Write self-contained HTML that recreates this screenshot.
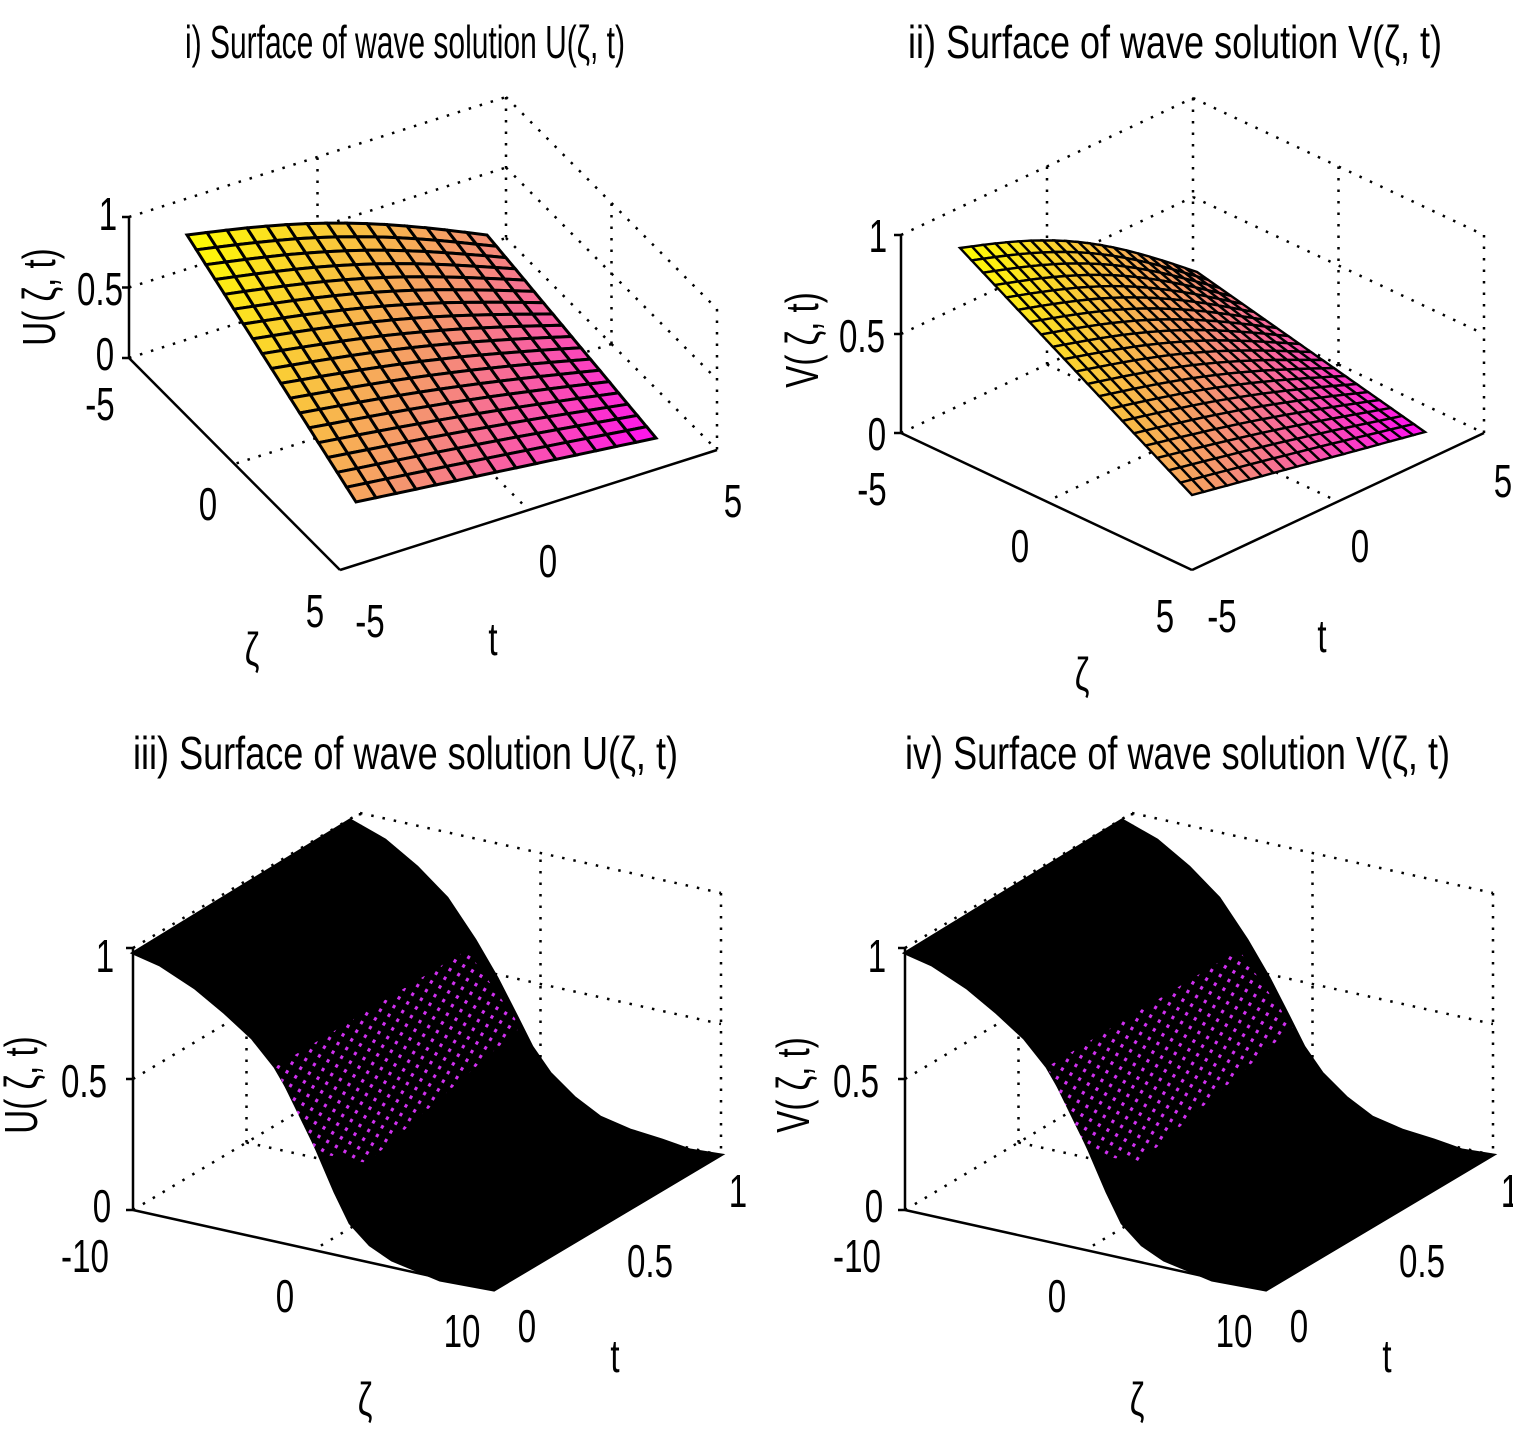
<!DOCTYPE html>
<html><head><meta charset="utf-8"><style>
html,body{margin:0;padding:0;background:#fff;}
svg{display:block;}
text{font-family:"Liberation Sans",sans-serif;fill:#000;}
</style></head><body>
<svg id="s" width="1513" height="1436" viewBox="0 0 1513 1436" xmlns="http://www.w3.org/2000/svg">
<defs>
<pattern id="dots" width="10" height="10" patternUnits="userSpaceOnUse" patternTransform="rotate(30)">
<rect width="10" height="10" fill="#000"/><rect x="3" y="3" width="3" height="3.5" fill="#d030f0"/>
</pattern>
</defs>
<g id="g"></g>
</svg>
<script>
var g=document.getElementById('g');var NS='http://www.w3.org/2000/svg';
function el(t,a,txt){var e=document.createElementNS(NS,t);for(var k in a)e.setAttribute(k,a[k]);if(txt!=null)e.textContent=txt;g.appendChild(e);return e;}
function ln(x1,y1,x2,y2,dot){el('line',{x1:x1,y1:y1,x2:x2,y2:y2,stroke:'#000','stroke-width':2.5,'stroke-dasharray':dot?'2.5 9':'none'});}
function tx(x,y,s,fs,sx,anchor,rot){var t=el('text',{'font-size':fs,'text-anchor':anchor||'middle',transform:'translate('+x+','+y+')'+(rot?' rotate('+rot+')':'')+' scale('+(sx||0.72)+',1)'},s);return t;}
function title(x1,x2,y,s){var t=el('text',{x:x1,y:y,'font-size':46,textLength:x2-x1,lengthAdjust:'spacingAndGlyphs'},s);}
title(185,625,58,'i) Surface of wave solution U(\u03B6, t)');
title(908,1442,58,'ii) Surface of wave solution V(\u03B6, t)');
title(133,678,769,'iii) Surface of wave solution U(\u03B6, t)');
title(905,1450,769,'iv) Surface of wave solution V(\u03B6, t)');

function box(L,F,R,H){
 var B=[L[0]+R[0]-F[0],L[1]+R[1]-F[1]];
 ln(L[0],L[1]-H,B[0],B[1]-H,1);ln(B[0],B[1]-H,R[0],R[1]-H,1);
 ln(B[0],B[1]-H,B[0],B[1],1);ln(R[0],R[1]-H,R[0],R[1],1);
 ln(L[0],L[1],B[0],B[1],1);ln(B[0],B[1],R[0],R[1],1);
 ln(L[0],L[1]-H/2,B[0],B[1]-H/2,1);ln(B[0],B[1]-H/2,R[0],R[1]-H/2,1);
 var m1=[(L[0]+B[0])/2,(L[1]+B[1])/2],m2=[(B[0]+R[0])/2,(B[1]+R[1])/2];
 var m3=[(L[0]+F[0])/2,(L[1]+F[1])/2],m4=[(F[0]+R[0])/2,(F[1]+R[1])/2];
 ln(m1[0],m1[1],m1[0],m1[1]-H,1);ln(m2[0],m2[1],m2[0],m2[1]-H,1);
 ln(m1[0],m1[1],m4[0],m4[1],1);ln(m2[0],m2[1],m3[0],m3[1],1);
 ln(L[0],L[1],F[0],F[1]);ln(F[0],F[1],R[0],R[1]);ln(L[0],L[1],L[0],L[1]-H);
 ln(L[0]-7,L[1],L[0],L[1]);ln(L[0]-7,L[1]-H/2,L[0],L[1]-H/2);ln(L[0]-7,L[1]-H,L[0],L[1]-H);
}
function lerp(a,b,t){return [a[0]+(b[0]-a[0])*t,a[1]+(b[1]-a[1])*t];}
function col(s){var c0=[255,255,0],c1=[245,150,110],c2=[255,0,255],a,b,t;
 if(s<0.5){a=c0;b=c1;t=s*2;}else{a=c1;b=c2;t=(s-0.5)*2;}
 return 'rgb('+Math.round(a[0]+(b[0]-a[0])*t)+','+Math.round(a[1]+(b[1]-a[1])*t)+','+Math.round(a[2]+(b[2]-a[2])*t)+')';}
function mesh(A,B,C,D,nu,nv,bump,sw){
 function P(u,v){var p=lerp(lerp(A,B,u),lerp(D,C,u),v);return [p[0],p[1]+bump*Math.sin(Math.PI*u)*(1-v)];}
 for(var i=0;i<nu;i++)for(var j=0;j<nv;j++){
  var u0=i/nu,u1=(i+1)/nu,v0=j/nv,v1=(j+1)/nv;
  var p=[P(u0,v0),P(u1,v0),P(u1,v1),P(u0,v1)];
  el('polygon',{points:p.map(function(q){return q[0].toFixed(1)+','+q[1].toFixed(1)}).join(' '),fill:col((u0*1.1+v0*0.9)/2*0.95+0.03),stroke:'#000','stroke-width':sw});
 }
}
var fs=46;
box([129,358],[340,570],[717,450],141);
mesh([187,235],[487,235],[656,438],[356,502],15,18,-12,3);
tx(108,230,'1',fs);tx(100,305,'0.5',fs);tx(105,370,'0',fs);
tx(100,420,'-5',fs);tx(208,520,'0',fs);tx(315,627,'5',fs);tx(252,665,'\u03B6',fs);
tx(370,637,'-5',fs);tx(548,577,'0',fs);tx(733,517,'5',fs);tx(493,655,'t',fs);
tx(55,297,'U( \u03B6, t)',fs,0.72,'middle',-90);
box([901,433],[1192,570],[1484,433],198);
mesh([960,248],[1197,272],[1425,432],[1192,495],20,20,-18,2.4);
tx(878,252,'1',fs);tx(862,352,'0.5',fs);tx(877,450,'0',fs);
tx(872,505,'-5',fs);tx(1020,562,'0',fs);tx(1165,632,'5',fs);tx(1082,690,'\u03B6',fs);
tx(1222,632,'-5',fs);tx(1360,562,'0',fs);tx(1503,497,'5',fs);tx(1322,652,'t',fs);
tx(818,340,'V( \u03B6, t)',fs,0.72,'middle',-90);
function wave(dx,lab){
 box([133+dx,1210],[494+dx,1290],[721+dx,1155],262);
 var front=[[133,953],[160,965],[195,988],[225,1013],[252,1038],[275,1067],[297,1105],[317,1150],[335,1192],[350,1223],[370,1245],[392,1260],[440,1280],[494,1290]];
 var back=[[721,1155],[690,1150],[662,1140],[630,1130],[600,1117],[575,1098],[550,1073],[532,1047],[517,1017],[497,978],[475,940],[447,898],[417,867],[385,840],[350,820]];
 var pts=front.concat(back).map(function(q){return (q[0]+dx)+','+q[1]}).join(' ');
 el('polygon',{points:pts,fill:'#000',stroke:'#000','stroke-width':3});
 var d=[[275,1067],[467,950],[521,1027],[367,1163],[317,1153]].map(function(q){return (q[0]+dx)+','+q[1]}).join(' ');
 el('polygon',{points:d,fill:'url(#dots)'});
 tx(105+dx,972,'1',fs);tx(84+dx,1097,'0.5',fs);tx(102+dx,1222,'0',fs);
 tx(85+dx,1272,'-10',fs);tx(285+dx,1312,'0',fs);tx(462+dx,1347,'10',fs);tx(365+dx,1415,'\u03B6',fs);
 tx(527+dx,1342,'0',fs);tx(650+dx,1277,'0.5',fs);tx(738+dx,1207,'1',fs);tx(615+dx,1372,'t',fs);
 tx(37+dx,1085,lab+'( \u03B6, t)',fs,0.72,'middle',-90);
}
wave(0,'U');wave(772,'V');
</script>
</body></html>
